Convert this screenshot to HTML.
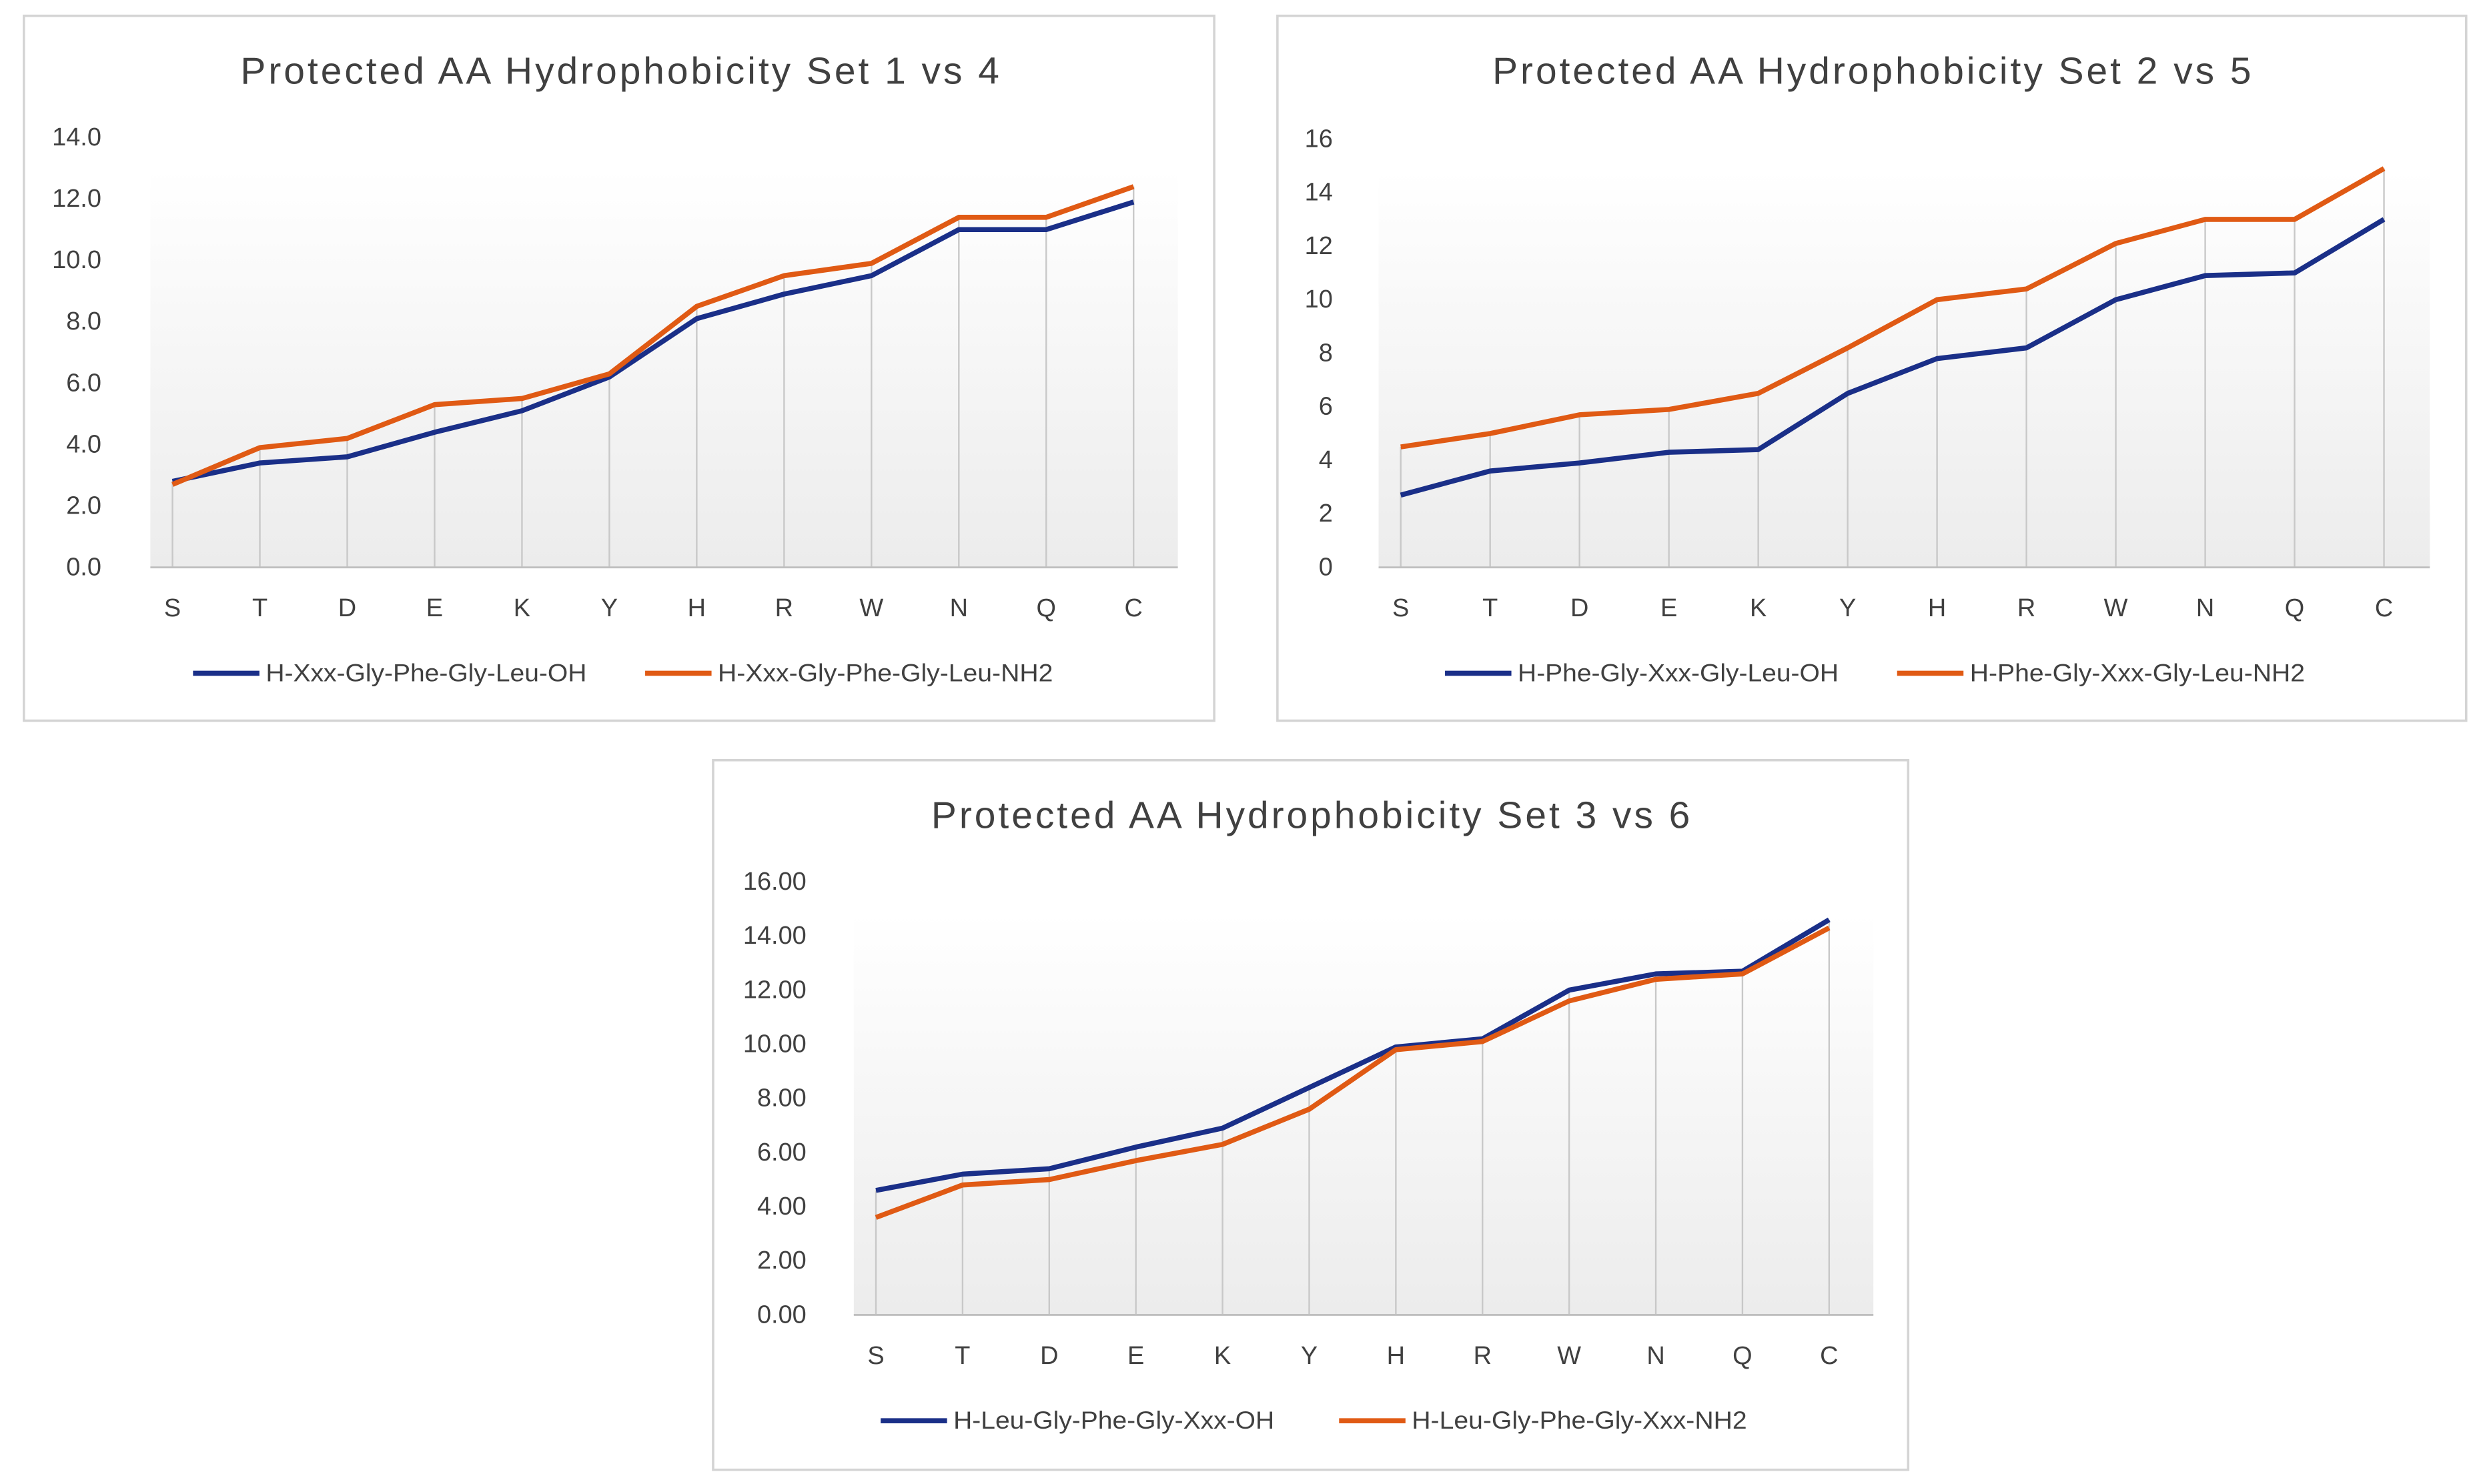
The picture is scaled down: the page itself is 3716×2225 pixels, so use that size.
<!DOCTYPE html>
<html><head><meta charset="utf-8">
<style>
html,body{margin:0;padding:0;background:#fff;}
svg{display:block;font-family:"Liberation Sans",sans-serif;}
</style></head>
<body>
<svg id="root" width="3716" height="2225" viewBox="0 0 1568 939" xmlns="http://www.w3.org/2000/svg">
<defs>
<linearGradient id="bg" x1="0" y1="0" x2="0" y2="1">
<stop offset="0" stop-color="#ffffff"/><stop offset="1" stop-color="#ececec"/>
</linearGradient>
</defs>
</svg>
<script>
const categories = ["S","T","D","E","K","Y","H","R","W","N","Q","C"];
const set1Blue = [2.8,3.4,3.6,4.4,5.1,6.2,8.1,8.9,9.5,11.0,11.0,11.9];
const set1Orange = [2.7,3.9,4.2,5.3,5.5,6.3,8.5,9.5,9.9,11.4,11.4,12.4];
const set2Blue = [2.7,3.6,3.9,4.3,4.4,6.5,7.8,8.2,10.0,10.9,11.0,13.0];
const set2Orange = [4.5,5.0,5.7,5.9,6.5,8.2,10.0,10.4,12.1,13.0,13.0,14.9];
const set3Blue = [4.6,5.2,5.4,6.2,6.9,8.4,9.9,10.2,12.0,12.6,12.7,14.6];
const set3Orange = [3.6,4.8,5.0,5.7,6.3,7.6,9.8,10.1,11.6,12.4,12.6,14.3];
const ticks1 = ["0.0","2.0","4.0","6.0","8.0","10.0","12.0","14.0"];
const ticks2 = ["0","2","4","6","8","10","12","14","16"];
const ticks3 = ["0.00","2.00","4.00","6.00","8.00","10.00","12.00","14.00","16.00"];
const titles = ["Protected  AA  Hydrophobicity  Set 1 vs 4","Protected  AA  Hydrophobicity  Set 2 vs 5","Protected  AA  Hydrophobicity  Set 3 vs 6"];
const legends1 = ["H-Xxx-Gly-Phe-Gly-Leu-OH","H-Xxx-Gly-Phe-Gly-Leu-NH2"];
const legends2 = ["H-Phe-Gly-Xxx-Gly-Leu-OH","H-Phe-Gly-Xxx-Gly-Leu-NH2"];
const legends3 = ["H-Leu-Gly-Phe-Gly-Xxx-OH","H-Leu-Gly-Phe-Gly-Xxx-NH2"];

const NS="http://www.w3.org/2000/svg";
const root=document.getElementById('root');
function mk(tag,attrs,parent){const e=document.createElementNS(NS,tag);for(const k in attrs)e.setAttribute(k,attrs[k]);(parent||root).appendChild(e);return e;}

const layouts=[
 {id:"chart-set1-vs-4",fx:15,fy:10,fw:753,fh:446,tx:392,ty:53,y0:359,ytop:87,xS:109,xC:717,ax0:95,ax1:745,lab:64,xl:390,lg:426,lgx:[122,408],max:14,ticks:ticks1,b:set1Blue,o:set1Orange,leg:legends1,title:titles[0]},
 {id:"chart-set2-vs-5",fx:808,fy:10,fw:752,fh:446,tx:1184,ty:53,y0:359,ytop:88,xS:886,xC:1508,ax0:872,ax1:1537,lab:843,xl:390,lg:426,lgx:[914,1200],max:16,ticks:ticks2,b:set2Blue,o:set2Orange,leg:legends2,title:titles[1]},
 {id:"chart-set3-vs-6",fx:451,fy:481,fw:756,fh:449,tx:829,ty:524,y0:832,ytop:558,xS:554,xC:1157,ax0:540,ax1:1185,lab:510,xl:863,lg:899,lgx:[557,847],max:16,ticks:ticks3,b:set3Blue,o:set3Orange,leg:legends3,title:titles[2]}
];

layouts.forEach(L=>{
 const g=mk('g',{});
 
 
 const fr=mk('rect',{x:L.fx,y:L.fy,width:L.fw,height:L.fh,fill:'#fff',stroke:'#d4d4d4','stroke-width':1.5},g);
 
 
 const t=mk('text',{x:L.tx,y:L.ty,'text-anchor':'middle','font-size':24,fill:'#404040',textLength:480,lengthAdjust:'spacing'},g);
 t.textContent=L.title;
 
 
 const yS=v=>L.y0-(v/L.max)*(L.y0-L.ytop);
 const xS=i=>L.xS+i*(L.xC-L.xS)/(categories.length-1);
 const bgr=mk('rect',{x:L.ax0,y:L.ytop+20,width:L.ax1-L.ax0,height:L.y0-L.ytop-20,fill:'url(#bg)'},g);
 
 
 const nT=L.ticks.length;
 L.ticks.forEach((lab,i)=>{
  const v=i*L.max/(nT-1);
  const tt=mk('text',{x:L.lab,y:yS(v)+5,'text-anchor':'end','font-size':16,fill:'#404040'},g);
  tt.textContent=lab;
  
  
 });
 categories.forEach((c,i)=>{
  const top=Math.max(L.b[i],L.o[i]);
  const dl=mk('line',{x1:xS(i),x2:xS(i),y1:yS(top),y2:L.y0,stroke:'#c8c8c8','stroke-width':1},g);
  
  
  const xt=mk('text',{x:xS(i),y:L.xl,'text-anchor':'middle','font-size':16,fill:'#404040'},g);
  xt.textContent=c;
  
  
 });
 const ax=mk('line',{x1:L.ax0,x2:L.ax1,y1:L.y0,y2:L.y0,stroke:'#bfbfbf','stroke-width':1.2},g);
 
 
 [[L.b,'#1a2f88','series-oh'],[L.o,'#e05a14','series-nh2']].forEach(([arr,col,nm])=>{
  const pts=arr.map((v,i)=>xS(i)+','+yS(v)).join(' ');
  const pl=mk('polyline',{points:pts,fill:'none',stroke:col,'stroke-width':3.2,'stroke-linejoin':'round'},g);
  
  
 });
 [['#1a2f88',0],['#e05a14',1]].forEach(([col,k])=>{
  const x=L.lgx[k];
  const lg=mk('g',{},g);
  
  
  mk('line',{x1:x,x2:x+42,y1:L.lg,y2:L.lg,stroke:col,'stroke-width':3.2},lg);
  const lt=mk('text',{x:x+46,y:L.lg+5,'font-size':15.5,fill:'#404040',textLength:(k?212:203),lengthAdjust:'spacingAndGlyphs'},lg);
  lt.textContent=L.leg[k];
 });
});
</script>
</body></html>
